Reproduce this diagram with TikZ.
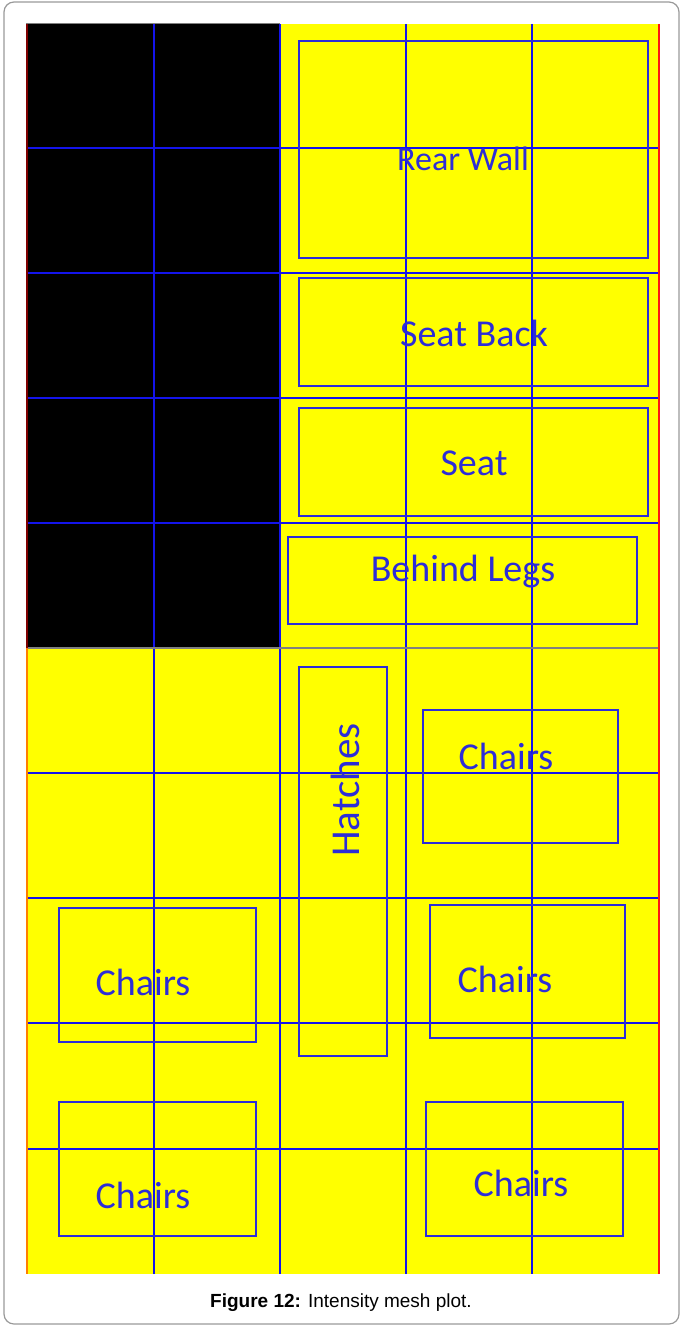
\documentclass[tikz,border=0pt]{standalone}
\usepackage{fontspec}
\setmainfont{Carlito}
\newfontfamily\capfont{Liberation Sans}
\usepackage{tikz}
\definecolor{meshblue}{RGB}{20,20,235}
\definecolor{zoneblue}{RGB}{45,45,215}
\definecolor{meshyellow}{RGB}{255,255,0}
\definecolor{edgered}{RGB}{255,20,20}

\begin{document}
\begin{tikzpicture}[
  x=1pt,y=-1pt,
  gridline/.style={draw=meshblue,line width=1.4pt},
  zone/.style={draw=zoneblue,line width=1.4pt,inner sep=0pt},
  lbl/.style={text=zoneblue,font=\fontsize{38}{42}\selectfont,inner sep=0pt}
]
\useasboundingbox (0,0) rectangle (682,1327);
\draw[gray!80,line width=1.2pt,rounded corners=10pt] (4,2) rectangle (679,1324);
% intensity cells
\fill[meshyellow] (26,24) rectangle (660,1274);
\fill[black] (26,24) rectangle (280,648);
% mesh
\foreach \x in {154,280,406,532}
  \draw[gridline] (\x,24) -- (\x,1274);
\foreach \y in {148,273,398,523,773,898,1023,1149}
  \draw[gridline] (26,\y) -- (660,\y);
\draw[gray,line width=1.2pt] (26,648) -- (660,648);
\draw[gray,line width=1pt] (26,24) -- (280,24);
\draw[red!50!black,line width=2.4pt] (27.2,24) -- (27.2,648);
\draw[orange,line width=2.4pt] (27.2,648) -- (27.2,1274);
\draw[edgered,line width=1.8pt] (659.3,24) -- (659.3,1274);
% zones
\node[zone,minimum width=349,minimum height=217] (rearbox) at (473.5,149.5) {};
\node[zone,minimum width=349,minimum height=108] (backbox) at (473.5,332) {};
\node[zone,minimum width=349,minimum height=108] (seatbox) at (473.5,462) {};
\node[zone,minimum width=349,minimum height=87] (legbox) at (462.5,580.5) {};
\node[zone,minimum width=88,minimum height=389] (hatchbox) at (343,861.5) {};
\node[zone,minimum width=195,minimum height=133] (chairbox1) at (520.5,776.5) {};
\node[zone,minimum width=195,minimum height=133] (chairbox2) at (527.5,971.5) {};
\node[zone,minimum width=197,minimum height=134] (chairbox3) at (524.5,1169) {};
\node[zone,minimum width=197,minimum height=134] (chairbox4) at (157.5,975) {};
\node[zone,minimum width=197,minimum height=134] (chairbox5) at (157.5,1169) {};
% labels
\node[lbl,font=\fontsize{34}{38}\selectfont] (rear) at (463,159) {Rear Wall};
\node[lbl] (back) at (474,333) {Seat Back};
\node[lbl] (seat) at (474,463) {Seat};
\node[lbl] (legs) at (463,572) {Behind Legs};
\node[lbl,rotate=90,font=\fontsize{41}{44}\selectfont] (hatch) at (345,790) {Hatches};
\node[lbl] (chair1) at (506,756) {Chairs};
\node[lbl] (chair2) at (505,979) {Chairs};
\node[lbl] (chair3) at (521,1183) {Chairs};
\node[lbl] (chair4) at (143,982) {Chairs};
\node[lbl] (chair5) at (143,1195) {Chairs};
\node[font=\capfont\fontsize{19}{22}\selectfont] (caption) at (341,1303)
  {\textbf{Figure 12:} Intensity mesh plot.};
\end{tikzpicture}
\end{document}
